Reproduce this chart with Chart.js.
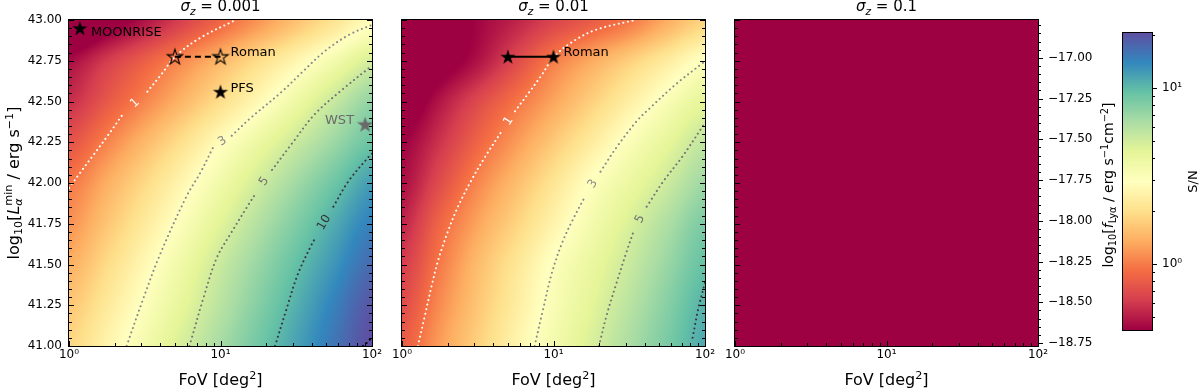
<!DOCTYPE html>
<html><head><meta charset="utf-8">
<script src="https://cdn.jsdelivr.net/npm/chart.js@4.4.1/dist/chart.umd.min.js"></script>
<style>
html,body{margin:0;padding:0;background:#fff;overflow:hidden}
#wrap{position:relative;width:1200px;height:389px;background:#fff}
#wrap canvas{position:absolute;left:0;top:0}
</style></head>
<body><div id="wrap">
<canvas id="p1" width="1200" height="389"></canvas>
<canvas id="p2" width="1200" height="389"></canvas>
<canvas id="p3" width="1200" height="389"></canvas>
<canvas id="cb" width="1200" height="389"></canvas>
</div>
<script>
// ================= DATA =================
// grid nodes: FoV [deg^2] (columns) and log10 L_alpha^min (rows)
const fovNodes = [1.0, 1.778, 3.162, 5.623, 10.0, 17.78, 31.62, 56.23, 100.0];
const lumNodes = [41.0, 41.25, 41.5, 41.75, 42.0, 42.25, 42.5, 42.75, 43.0];
// S/N maps, one row per lumNodes value
const snSigma0001 = [
  [1.85, 2.54, 3.50, 4.81, 6.50, 8.77, 11.7, 15.7, 20.9],
  [1.63, 2.23, 3.08, 4.24, 5.81, 7.91, 10.7, 14.5, 19.5],
  [1.37, 1.92, 2.69, 3.77, 5.25, 7.08, 9.53, 12.7, 17.0],
  [1.15, 1.61, 2.26, 3.16, 4.43, 6.05, 8.17, 11.0, 14.6],
  [0.97, 1.36, 1.89, 2.63, 3.63, 5.00, 6.71, 9.00, 12.1],
  [0.74, 1.04, 1.46, 2.03, 2.84, 3.87, 5.22, 6.92, 9.14],
  [0.56, 0.77, 1.05, 1.44, 1.98, 2.71, 3.79, 5.33, 7.31],
  [0.45, 0.61, 0.81, 1.08, 1.45, 1.95, 2.61, 3.52, 4.82],
  [0.26, 0.35, 0.47, 0.64, 0.86, 1.15, 1.56, 2.09, 2.82]
];
const snSigma001 = [
  [0.80, 1.22, 1.77, 2.53, 3.50, 4.71, 6.30, 8.41, 11.2],
  [0.70, 1.10, 1.62, 2.32, 3.25, 4.34, 5.79, 7.80, 10.5],
  [0.62, 0.98, 1.50, 2.14, 3.05, 3.99, 5.24, 7.03, 9.42],
  [0.53, 0.86, 1.28, 1.80, 2.54, 3.49, 4.67, 6.22, 8.30],
  [0.46, 0.70, 1.06, 1.50, 2.12, 3.00, 3.92, 5.12, 6.82],
  [0.42, 0.58, 0.85, 1.19, 1.66, 2.30, 3.17, 4.19, 5.52],
  [0.34, 0.48, 0.68, 0.94, 1.28, 1.75, 2.39, 3.24, 4.25],
  [0.28, 0.36, 0.47, 0.68, 1.00, 1.32, 1.74, 2.30, 3.03],
  [0.28, 0.35, 0.43, 0.52, 0.65, 0.79, 0.97, 1.35, 1.80]
];
const snSigma01 = [
  [0.060, 0.085, 0.12, 0.17, 0.23, 0.30, 0.36, 0.39, 0.40],
  [0.055, 0.078, 0.11, 0.15, 0.21, 0.28, 0.34, 0.38, 0.40],
  [0.050, 0.070, 0.10, 0.14, 0.19, 0.25, 0.31, 0.36, 0.39],
  [0.045, 0.063, 0.09, 0.12, 0.17, 0.22, 0.28, 0.33, 0.37],
  [0.040, 0.056, 0.08, 0.11, 0.15, 0.19, 0.25, 0.30, 0.35],
  [0.035, 0.049, 0.07, 0.10, 0.13, 0.17, 0.22, 0.27, 0.32],
  [0.030, 0.042, 0.06, 0.08, 0.11, 0.15, 0.19, 0.24, 0.29],
  [0.025, 0.035, 0.05, 0.07, 0.09, 0.12, 0.16, 0.20, 0.25],
  [0.015, 0.021, 0.03, 0.04, 0.05, 0.07, 0.09, 0.12, 0.15]
];
const sigmaZ = ['0.001', '0.01', '0.1'];

// contour lines [FoV, log10 L]; null marks the inline label gap
const p1Sn1  = [[1.0,41.97],[1.2,42.07],[1.445,42.17],[1.8,42.29],[2.26,42.42],null,[3.29,42.56],[4.1,42.67],[5.01,42.775],[7.33,42.89],[12.6,43.0]];
const p1Sn3  = [[2.40,41.0],[3.09,41.29],[3.98,41.56],[5.98,41.92],[7.33,42.06],[8.95,42.22],null,[11.86,42.29],[15.85,42.40],[25.4,42.56],[35.5,42.69],[49.0,42.81],[70.8,42.91],[100,42.97]];
const p1Sn5  = [[6.24,41.0],[7.69,41.29],[9.44,41.54],[11.86,41.70],[15.14,41.86],[17.18,41.94],null,[21.88,42.08],[29.51,42.24],[41.69,42.42],[63.1,42.57],[100,42.72]];
const p1Sn10 = [[22.9,41.0],[27.35,41.23],[32.36,41.44],[39.81,41.62],[42.07,41.66],null,[55.59,41.855],[69.82,42.01],[97.05,42.17],[100,42.18]];
const p1Sn20 = [[87.0,41.0],[95.0,41.03],[100,41.06]];
const p2Sn1  = [[1.274,41.0],[1.419,41.19],[1.570,41.37],[1.738,41.53],[2.023,41.71],[2.355,41.86],[2.884,42.02],[3.532,42.16],[4.571,42.32],null,[5.572,42.44],[6.823,42.55],[8.318,42.66],[10.0,42.77],[13.0,42.86],[19.05,42.94],[34.7,43.0]];
const p2Sn3  = [[7.50,41.0],[8.51,41.22],[9.77,41.45],[11.48,41.64],[13.49,41.78],[16.22,41.92],null,[20.42,42.07],[26.12,42.22],[35.48,42.38],[43.35,42.46],[65.0,42.61],[97.7,42.74],[100,42.75]];
const p2Sn5  = [[19.95,41.0],[22.44,41.19],[26.12,41.39],[30.41,41.58],[33.65,41.70],null,[41.21,41.855],[53.09,42.01],[71.94,42.17],[100,42.37]];
const p2Sn10 = [[82.8,41.05],[90.36,41.23],[100,41.39]];

// surveys
const moonriseFoV = [1.18],  moonriseLum = [42.95];
const romanFoV = [5, 10],    romanLum = [42.775, 42.775];
const pfsFoV = [10],         pfsLum = [42.56];
const wstFoV = [90],         wstLum = [42.36];

// ticks
const fovTicks = [1, 10, 100];
const fovTickLabels = ['10\u2070', '10\u00b9', '10\u00b2'];
const fovMinor = [2,3,4,5,6,7,8,9,20,30,40,50,60,70,80,90];
const lumTicks = [41.0, 41.25, 41.5, 41.75, 42.0, 42.25, 42.5, 42.75, 43.0];
const fluxTicks = [-18.75, -18.5, -18.25, -18.0, -17.75, -17.5, -17.25, -17.0];
const fluxMin = -18.768, fluxMax = -16.768;
const snTicks = [1, 10];
const snTickLabels = ['10\u2070', '10\u00b9'];
const snMinor = [0.5,0.6,0.7,0.8,0.9,2,3,4,5,6,7,8,9,20];
const SN_MIN = 0.42, SN_MAX = 20.5;

// ================= HELPERS =================
Chart.defaults.font.family = "'DejaVu Sans', sans-serif";
Chart.defaults.color = '#000';
Chart.defaults.animation = false;
const FAM = "'DejaVu Sans', sans-serif";

const lumMinor = [], fluxMinor = [];
for (let k = 0; k <= 40; k++) { const v = Math.round((41 + k*0.05)*100)/100; if (Math.abs(v*4 - Math.round(v*4)) > 1e-6) lumMinor.push(v); }
for (let k = 0; k <= 40; k++) { const v = Math.round((-18.8 + k*0.05)*100)/100; if (v > fluxMin && v < fluxMax && Math.abs(v*4 - Math.round(v*4)) > 1e-6) fluxMinor.push(v); }

const spectral = ['#9e0142','#d53e4f','#f46d43','#fdae61','#fee08b','#ffffbf','#e6f598','#abdda4','#66c2a5','#3288bd','#5e4fa2']
  .map(h => [parseInt(h.slice(1,3),16), parseInt(h.slice(3,5),16), parseInt(h.slice(5,7),16)]);
const LMIN = Math.log10(SN_MIN), LMAX = Math.log10(SN_MAX);
function cmapLog(lv) {
  let t = (lv - LMIN) / (LMAX - LMIN); t = Math.max(0, Math.min(1, t));
  const s = t * 10, i = Math.min(9, Math.floor(s)), f = s - i;
  const a = spectral[i], b = spectral[i+1];
  return [a[0]+(b[0]-a[0])*f, a[1]+(b[1]-a[1])*f, a[2]+(b[2]-a[2])*f];
}

function starImg(fill, stroke, r) {
  const c = document.createElement('canvas');
  const s = Math.ceil(2*r + 4); c.width = c.height = s;
  const g = c.getContext('2d');
  g.translate(s/2, s/2 + r*0.08);
  g.beginPath();
  for (let k = 0; k < 10; k++) {
    const ang = -Math.PI/2 + k*Math.PI/5, rr = (k % 2) ? r*0.382 : r;
    const x = rr*Math.cos(ang), y = rr*Math.sin(ang);
    if (k === 0) g.moveTo(x, y); else g.lineTo(x, y);
  }
  g.closePath();
  if (fill) { g.fillStyle = fill; g.fill(); }
  if (stroke) { g.lineWidth = 1.1; g.strokeStyle = stroke; g.stroke(); }
  return c;
}
const starBlack = starImg('#000', null, 8);
const starHollow = starImg(null, '#000', 8);
const starGrey = starImg('#6a6a6a', null, 8.5);

function drawRich(ctx, parts, x, y, size, rot, color, align) {
  ctx.save();
  ctx.translate(x, y); ctx.rotate(rot || 0);
  ctx.fillStyle = color || '#000'; ctx.textBaseline = 'alphabetic'; ctx.textAlign = 'left';
  const fnt = (p, s) => (p.it ? 'italic ' : '') + s + 'px ' + FAM;
  let total = 0;
  parts.forEach(p => {
    const s = (p.sub || p.sup) ? size*0.7 : size;
    ctx.font = fnt(p, s); p._w = ctx.measureText(p.t).width;
    if (p.up) { ctx.font = fnt({}, size*0.7); p._w = Math.max(p._w, ctx.measureText(p.up).width); }
    total += p._w;
  });
  let cx = align === 'right' ? -total : align === 'left' ? 0 : -total/2;
  const base = size*0.36;
  parts.forEach(p => {
    const s = (p.sub || p.sup) ? size*0.7 : size;
    ctx.font = fnt(p, s);
    const dy = p.sub ? size*0.22 : p.sup ? -size*0.38 : 0;
    ctx.fillText(p.t, cx, base + dy);
    if (p.up) { ctx.font = fnt({}, size*0.7); ctx.fillText(p.up, cx, base - size*0.42); }
    cx += p._w;
  });
  ctx.restore();
}

// Catmull-Rom weights for smooth rendering between grid cells
function crw(t) {
  const t2 = t*t, t3 = t2*t;
  return [-0.5*t3 + t2 - 0.5*t, 1.5*t3 - 2.5*t2 + 1, -1.5*t3 + 2*t2 + 0.5*t, 0.5*t3 - 0.5*t2];
}

// ================= PLUGINS =================
const heatPlugin = {
  id: 'heat',
  beforeDatasetsDraw(chart, args, o) {
    if (!o.grid) return;
    const xs = chart.scales.x, ys = chart.scales.y, a = chart.chartArea, ctx = chart.ctx;
    const nx = fovNodes.map(v => xs.getPixelForValue(v));
    const ny = lumNodes.map(v => ys.getPixelForValue(v));
    const lg = o.grid.map(r => r.map(v => Math.log10(v)));
    const NX = nx.length, NY = ny.length;
    const x0 = Math.round(a.left), y0 = Math.round(a.top);
    const w = Math.round(a.right) - x0, h = Math.round(a.bottom) - y0;
    const img = ctx.createImageData(w, h);
    const colInfo = [];
    for (let px = 0; px < w; px++) {
      const X = x0 + px + 0.5;
      let i = 0; while (i < NX - 2 && X > nx[i+1]) i++;
      let fx = (X - nx[i]) / (nx[i+1] - nx[i]); fx = Math.max(0, Math.min(1, fx));
      colInfo.push([i, crw(fx)]);
    }
    const cl = (k, n) => Math.max(0, Math.min(n - 1, k));
    for (let py = 0; py < h; py++) {
      const Y = y0 + py + 0.5;
      let j = 0; while (j < NY - 2 && Y < ny[j+1]) j++;
      let fy = (ny[j] - Y) / (ny[j] - ny[j+1]); fy = Math.max(0, Math.min(1, fy));
      const wy = crw(fy);
      for (let px = 0; px < w; px++) {
        const [i, wx] = colInfo[px];
        let v = 0;
        for (let b = 0; b < 4; b++) {
          const row = lg[cl(j - 1 + b, NY)];
          let rv = 0;
          for (let q = 0; q < 4; q++) rv += wx[q] * row[cl(i - 1 + q, NX)];
          v += wy[b] * rv;
        }
        const c = cmapLog(v), k = (py*w + px)*4;
        img.data[k] = c[0]; img.data[k+1] = c[1]; img.data[k+2] = c[2]; img.data[k+3] = 255;
      }
    }
    ctx.putImageData(img, x0, y0);
  }
};

const cbarPlugin = {
  id: 'cbar',
  beforeDatasetsDraw(chart) {
    const ys = chart.scales.y, a = chart.chartArea, ctx = chart.ctx;
    for (let y = Math.round(a.top); y < Math.round(a.bottom); y++) {
      const v = ys.getValueForPixel(y + 0.5);
      const c = cmapLog(Math.log10(v));
      ctx.fillStyle = 'rgb(' + c.map(Math.round).join(',') + ')';
      ctx.fillRect(Math.round(a.left), y, Math.round(a.right) - Math.round(a.left), 1);
    }
  }
};

const framePlugin = {
  id: 'frame',
  afterDatasetsDraw(chart, args, o) {
    const ctx = chart.ctx, a = chart.chartArea;
    ctx.save(); ctx.strokeStyle = '#000'; ctx.lineWidth = 1;
    (o.clabels || []).forEach(cl => {
      const gi = cl.data.indexOf(null); if (gi < 0) return;
      const p0 = cl.data[gi-1], p1 = cl.data[gi+1];
      const xs = chart.scales.x, ys = chart.scales.y;
      const x0 = xs.getPixelForValue(p0[0]), y0 = ys.getPixelForValue(p0[1]);
      const x1 = xs.getPixelForValue(p1[0]), y1 = ys.getPixelForValue(p1[1]);
      let ang = Math.atan2(y1 - y0, x1 - x0);
      if (ang > Math.PI/2) ang -= Math.PI; if (ang < -Math.PI/2) ang += Math.PI;
      ctx.save(); ctx.translate((x0+x1)/2, (y0+y1)/2); ctx.rotate(ang);
      ctx.font = '12px ' + FAM; ctx.fillStyle = cl.color; ctx.textAlign = 'center'; ctx.textBaseline = 'middle';
      ctx.fillText(cl.text, 0, 0); ctx.restore();
    });
    (o.marks || []).forEach(m => {
      const sc = chart.scales[m.scale];
      const draw = (vals, len) => vals.forEach(v => {
        const p = Math.round(sc.getPixelForValue(v)) + 0.5;
        const d = m.dir === 'in' ? 1 : -1;
        ctx.beginPath();
        if (m.side === 'left')   { ctx.moveTo(a.left, p);  ctx.lineTo(a.left + d*len, p); }
        if (m.side === 'right')  { ctx.moveTo(a.right, p); ctx.lineTo(a.right - d*len, p); }
        if (m.side === 'bottom') { ctx.moveTo(p, a.bottom); ctx.lineTo(p, a.bottom - d*len); }
        ctx.stroke();
      });
      draw(m.major, 5); draw(m.minor, 3);
    });
    ctx.strokeRect(Math.round(a.left) - 0.5, Math.round(a.top) - 0.5, Math.round(a.right) - Math.round(a.left) + 1, Math.round(a.bottom) - Math.round(a.top) + 1);
    ctx.restore();
  }
};

const textPlugin = {
  id: 'texts',
  afterDraw(chart, args, o) {
    const ctx = chart.ctx, a = chart.chartArea;
    (o.items || []).forEach(it => {
      drawRich(ctx, it.parts, it.x(a), it.y(a), it.size, it.rot, it.color, it.align);
    });
    (o.markerLabels || []).forEach(m => {
      const px = chart.scales.x.getPixelForValue(m.fov), py = chart.scales.y.getPixelForValue(m.lum);
      ctx.save(); ctx.font = '13px ' + FAM; ctx.fillStyle = m.color; ctx.textAlign = m.align; ctx.textBaseline = 'middle';
      ctx.fillText(m.text, px + m.dx, py + m.dy); ctx.restore();
    });
  }
};

// ================= BUILD =================
const pts = arr => arr.map((p, i) => p ? {x: p[0], y: p[1]} : {x: arr[i-1][0], y: null});
const contourStyle = {
  1:  '#ffffff',
  3:  '#8a8a8a',
  5:  '#737373',
  10: '#363636',
  20: '#000000'
};
function contourDs(arr, level) {
  return {type: 'scatter', showLine: true, data: pts(arr), borderColor: contourStyle[level], borderWidth: 2,
    borderDash: [0.1, 4.6], borderCapStyle: 'round', pointRadius: 0, tension: 0.35, spanGaps: false, order: 3};
}
function starDs(fov, lum, img) {
  return {type: 'scatter', data: fov.map((f, i) => ({x: f, y: lum[i]})), pointStyle: img, pointRadius: 8, showLine: false, order: 0};
}
function linkDs(fov, lum, dash) {
  return {type: 'scatter', showLine: true, data: fov.map((f, i) => ({x: f, y: lum[i]})), borderColor: '#000', borderWidth: 2,
    borderDash: dash, pointRadius: 0, order: 1};
}
const titleParts = s => [{t: '\u03c3', it: true}, {t: 'z', it: true, sub: true}, {t: ' = ' + s}];
const xLabelParts = [{t: 'FoV [deg'}, {t: '2', sup: true}, {t: ']'}];

function makePanel(id, cfg) {
  const scales = {
    x: {type: 'logarithmic', min: 1, max: 100, position: 'bottom',
      grid: {display: false, drawTicks: false}, border: {display: false},
      afterBuildTicks: s => { s.ticks = fovTicks.map(v => ({value: v})); },
      ticks: {autoSkip: false, maxRotation: 0, padding: 2, font: {size: 12}, color: '#000',
        callback: v => { const i = fovTicks.findIndex(t => Math.abs(t - v) < 1e-6); return i >= 0 ? fovTickLabels[i] : ''; }},
      afterFit: s => { s.height = 40; }},
    y: {type: 'linear', min: 41, max: 43, position: 'left', display: cfg.leftLabels,
      grid: {display: false, drawTicks: false}, border: {display: false},
      afterBuildTicks: s => { s.ticks = lumTicks.map(v => ({value: v})); },
      ticks: {padding: 7, font: {size: 12}, color: '#000', callback: v => Number(v).toFixed(2)},
      afterFit: s => { s.width = cfg.leftLabels ? 60 : 0; }}
  };
  const marks = [
    {scale: 'y', side: 'left', dir: 'in', major: lumTicks, minor: lumMinor},
    {scale: 'x', side: 'bottom', dir: 'in', major: fovTicks, minor: fovMinor}
  ];
  if (cfg.rightAxis) {
    scales.y2 = {type: 'linear', min: fluxMin, max: fluxMax, position: 'right',
      grid: {display: false, drawTicks: false}, border: {display: false},
      afterBuildTicks: s => { s.ticks = fluxTicks.map(v => ({value: v})); },
      ticks: {padding: 10, font: {size: 12}, color: '#000', callback: v => (v < 0 ? '\u2212' : '') + Math.abs(v).toFixed(2)},
      afterFit: s => { s.width = 60; }};
    marks.push({scale: 'y2', side: 'right', dir: 'out', major: fluxTicks, minor: fluxMinor});
  } else {
    marks.push({scale: 'y', side: 'right', dir: 'in', major: lumTicks, minor: lumMinor});
  }
  const items = [
    {parts: titleParts(cfg.sigma), x: a => (a.left + a.right)/2, y: a => a.top - 14, size: 15},
    {parts: xLabelParts, x: a => (a.left + a.right)/2, y: a => 379, size: 16}
  ].concat(cfg.extraTexts || []);
  return new Chart(document.getElementById(id), {
    type: 'scatter',
    data: {datasets: cfg.datasets},
    options: {
      responsive: false, animation: false, events: [],
      layout: {padding: cfg.padding},
      plugins: {legend: {display: false}, tooltip: {enabled: false},
        heat: {grid: cfg.grid}, frame: {marks: marks, clabels: cfg.clabels || []},
        texts: {items: items, markerLabels: cfg.markerLabels || []}},
      scales: scales
    },
    plugins: [heatPlugin, framePlugin, textPlugin]
  });
}

makePanel('p1', {
  sigma: sigmaZ[0], grid: snSigma0001, leftLabels: true,
  padding: {left: 9, right: 828, top: 20, bottom: 3},
  datasets: [
    starDs(moonriseFoV, moonriseLum, starBlack),
    starDs(pfsFoV, pfsLum, starBlack),
    starDs(wstFoV, wstLum, starGrey),
    starDs(romanFoV, romanLum, starHollow),
    linkDs(romanFoV, romanLum, [6, 4]),
    contourDs(p1Sn1, 1), contourDs(p1Sn3, 3), contourDs(p1Sn5, 5), contourDs(p1Sn10, 10), contourDs(p1Sn20, 20)
  ],
  clabels: [
    {data: p1Sn1, text: '1', color: contourStyle[1]},
    {data: p1Sn3, text: '3', color: contourStyle[3]},
    {data: p1Sn5, text: '5', color: contourStyle[5]},
    {data: p1Sn10, text: '10', color: contourStyle[10]}
  ],
  markerLabels: [
    {text: 'MOONRISE', fov: moonriseFoV[0], lum: moonriseLum[0], dx: 11, dy: 4, align: 'left', color: '#000'},
    {text: 'Roman', fov: romanFoV[1], lum: romanLum[1], dx: 10, dy: -4, align: 'left', color: '#000'},
    {text: 'PFS', fov: pfsFoV[0], lum: pfsLum[0], dx: 10, dy: -3, align: 'left', color: '#000'},
    {text: 'WST', fov: wstFoV[0], lum: wstLum[0], dx: -11, dy: -4, align: 'right', color: '#6a6a6a'}
  ],
  extraTexts: [
    {parts: [{t: 'log'}, {t: '10', sub: true}, {t: '['}, {t: 'L', it: true}, {t: '\u03b1', it: true, sub: true, up: 'min'}, {t: ' / erg s'}, {t: '\u22121', sup: true}, {t: ']'}],
     x: a => 13, y: a => 183, size: 16, rot: -Math.PI/2}
  ]
});

makePanel('p2', {
  sigma: sigmaZ[1], grid: snSigma001, leftLabels: false,
  padding: {left: 402, right: 495, top: 20, bottom: 3},
  datasets: [
    starDs(romanFoV, romanLum, starBlack),
    linkDs(romanFoV, romanLum, []),
    contourDs(p2Sn1, 1), contourDs(p2Sn3, 3), contourDs(p2Sn5, 5), contourDs(p2Sn10, 10)
  ],
  clabels: [
    {data: p2Sn1, text: '1', color: contourStyle[1]},
    {data: p2Sn3, text: '3', color: contourStyle[3]},
    {data: p2Sn5, text: '5', color: contourStyle[5]}
  ],
  markerLabels: [
    {text: 'Roman', fov: romanFoV[1], lum: romanLum[1], dx: 10, dy: -4, align: 'left', color: '#000'}
  ]
});

makePanel('p3', {
  sigma: sigmaZ[2], grid: snSigma01, leftLabels: false, rightAxis: true,
  padding: {left: 735, right: 102, top: 20, bottom: 3},
  datasets: [],
  extraTexts: [
    {parts: [{t: 'log'}, {t: '10', sub: true}, {t: '['}, {t: 'f', it: true}, {t: 'Ly\u03b1', sub: true}, {t: ' / erg s'}, {t: '\u22121', sup: true}, {t: 'cm'}, {t: '\u22122', sup: true}, {t: ']'}],
     x: a => 1108, y: a => 185, size: 14, rot: -Math.PI/2}
  ]
});

// colour bar
new Chart(document.getElementById('cb'), {
  type: 'scatter',
  data: {datasets: []},
  options: {
    responsive: false, animation: false, events: [],
    layout: {padding: {left: 1123, right: 8, top: 33, bottom: 59}},
    plugins: {legend: {display: false}, tooltip: {enabled: false},
      frame: {marks: [{scale: 'y', side: 'right', dir: 'out', major: snTicks, minor: snMinor}]},
      texts: {items: [{parts: [{t: 'S/N'}], x: a => 1192, y: a => (a.top + a.bottom)/2, size: 13, rot: -Math.PI/2}]}},
    scales: {
      x: {display: false, min: 0, max: 1},
      y: {type: 'logarithmic', position: 'right', min: SN_MIN, max: SN_MAX,
        grid: {display: false, drawTicks: false}, border: {display: false},
        afterBuildTicks: s => { s.ticks = snTicks.map(v => ({value: v})); },
        ticks: {padding: 10, font: {size: 12}, color: '#000',
          callback: v => { const i = snTicks.findIndex(t => Math.abs(t - v) < 1e-6); return i >= 0 ? snTickLabels[i] : ''; }},
        afterFit: s => { s.width = 40; }}
    }
  },
  plugins: [cbarPlugin, framePlugin, textPlugin]
});
</script>
</body></html>
